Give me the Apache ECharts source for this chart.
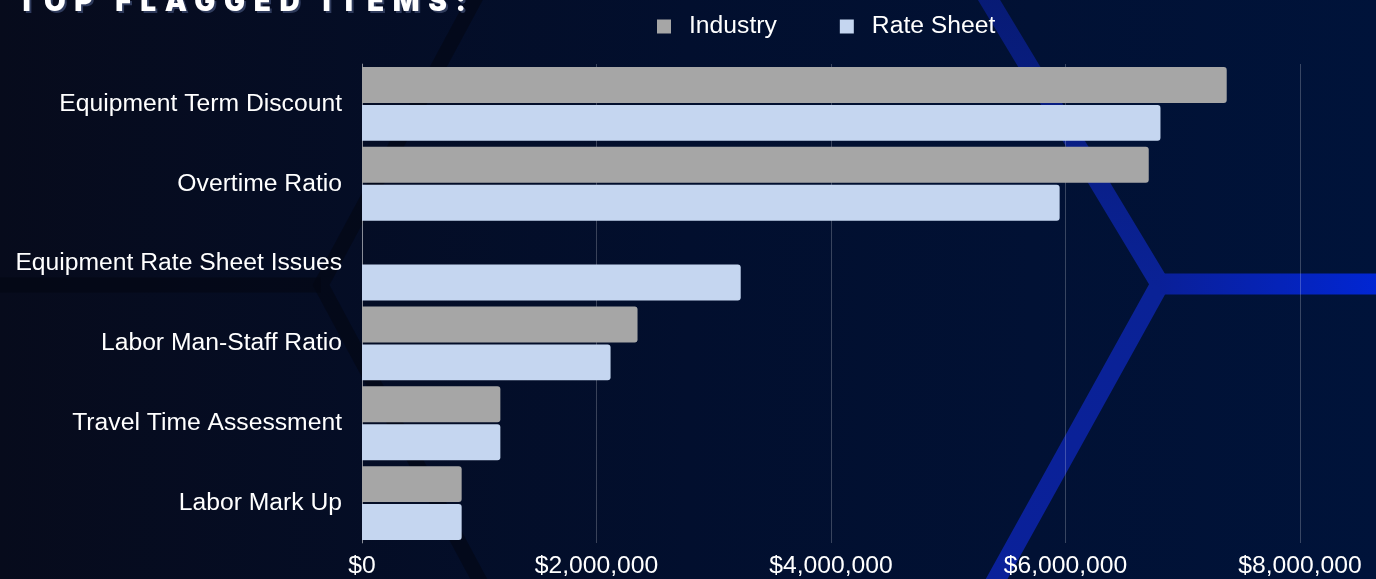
<!DOCTYPE html>
<html>
<head>
<meta charset="utf-8">
<script src="https://cdn.jsdelivr.net/npm/echarts@6/dist/echarts.min.js"></script>
<style>
  html, body { margin: 0; padding: 0; width: 1376px; height: 579px; overflow: hidden; background: #050d26; }
  #wrap { position: relative; width: 1376px; height: 579px; }
  #chart { position: absolute; left: 0; top: 0; width: 1376px; height: 579px; }
  #title { position: absolute; left: 17px; top: -16px; font-family: Inter, "DejaVu Sans", sans-serif; font-weight: 900;
           font-size: 28px; letter-spacing: 8.6px; color: #ffffff; text-shadow: 2px 2px 0 #2f3b5c; white-space: nowrap; }
</style>
</head>
<body>
<div id="wrap">
  <div id="chart"></div>
  <div id="title">TOP FLAGGED ITEMS:</div>
</div>
<script>
const categories = ["Equipment Term Discount", "Overtime Ratio", "Equipment Rate Sheet Issues", "Labor Man-Staff Ratio", "Travel Time Assessment", "Labor Mark Up"];
const seriesNames = ["Industry", "Rate Sheet"];
const industryValues = [7375000, 6710000, null, 2350000, 1180000, 850000];
const rateSheetValues = [6810000, 5950000, 3230000, 2120000, 1180000, 850000];
const axisMin = 0;
const axisMax = 8000000;
const axisInterval = 2000000;

const chart = echarts.init(document.getElementById('chart'), null, { renderer: 'canvas' });
const fontFamily = '"Liberation Sans", Arial, Helvetica, sans-serif';
const fontSize = 24.7;

function hexLine(points, color, width) {
  return {
    type: 'polyline', z: -10, silent: true,
    shape: { points: points },
    style: { stroke: color, lineWidth: width, fill: null, lineJoin: 'miter' }
  };
}

const option = {
  backgroundColor: new echarts.graphic.LinearGradient(0, 0, 1, 0, [
    { offset: 0, color: '#070b1c' },
    { offset: 0.5, color: '#020f2e' },
    { offset: 1, color: '#00133a' }
  ]),
  graphic: [
    hexLine([[485, -20], [321, 285], [490, 600]], 'rgba(3,6,18,0.6)', 15),
    hexLine([[0, 285], [321, 285]], 'rgba(3,6,18,0.6)', 15),
    {
      type: 'polyline', z: -9, silent: true,
      shape: { points: [[977, -20], [1160, 284], [985, 600]] },
      style: { stroke: new echarts.graphic.LinearGradient(0, 0, 0, 1, [
        { offset: 0, color: '#071a72' }, { offset: 0.5, color: '#0a2296' }, { offset: 1, color: '#0a209a' }
      ]), lineWidth: 19, fill: null, lineJoin: 'miter' }
    },
    {
      type: 'line', z: -9, silent: true,
      shape: { x1: 1160, y1: 284, x2: 1400, y2: 284 },
      style: { stroke: new echarts.graphic.LinearGradient(0, 0, 1, 0, [
        { offset: 0, color: '#0a1f95' }, { offset: 1, color: '#0027dc' }
      ]), lineWidth: 21 }
    }
  ],
  legend: {
    data: seriesNames,
    left: 652, top: 9,
    icon: 'rect', itemWidth: 14, itemHeight: 14, itemGap: 63,
    textStyle: { color: '#ffffff', fontSize: fontSize, fontFamily: fontFamily, padding: [0, 0, 0, 13] }
  },
  grid: { left: 362, right: 76, top: 64, bottom: 35, containLabel: false },
  xAxis: {
    type: 'value', min: axisMin, max: axisMax, interval: axisInterval,
    axisLine: { show: false }, axisTick: { show: false },
    splitLine: { show: true, lineStyle: { color: 'rgba(255,255,255,0.22)', width: 1 } },
    axisLabel: {
      color: '#ffffff', fontSize: fontSize, fontFamily: fontFamily, margin: 11,
      formatter: v => '$' + v.toLocaleString('en-US')
    }
  },
  yAxis: {
    type: 'category', data: categories, inverse: true,
    axisLine: { show: true, lineStyle: { color: 'rgba(255,255,255,0.4)', width: 1 } },
    axisTick: { show: false },
    axisLabel: { color: '#ffffff', fontSize: fontSize, fontFamily: fontFamily, margin: 20 }
  },
  series: [
    {
      name: seriesNames[0], type: 'bar', data: industryValues,
      barGap: '5.5%', barCategoryGap: '7.5%',
      itemStyle: { color: '#a6a6a6', borderRadius: [0, 3, 3, 0] }
    },
    {
      name: seriesNames[1], type: 'bar', data: rateSheetValues,
      barGap: '5.5%', barCategoryGap: '7.5%',
      itemStyle: { color: '#c5d6f0', borderRadius: [0, 3, 3, 0] }
    }
  ],
  animation: false
};
chart.setOption(option);
</script>
</body>
</html>
